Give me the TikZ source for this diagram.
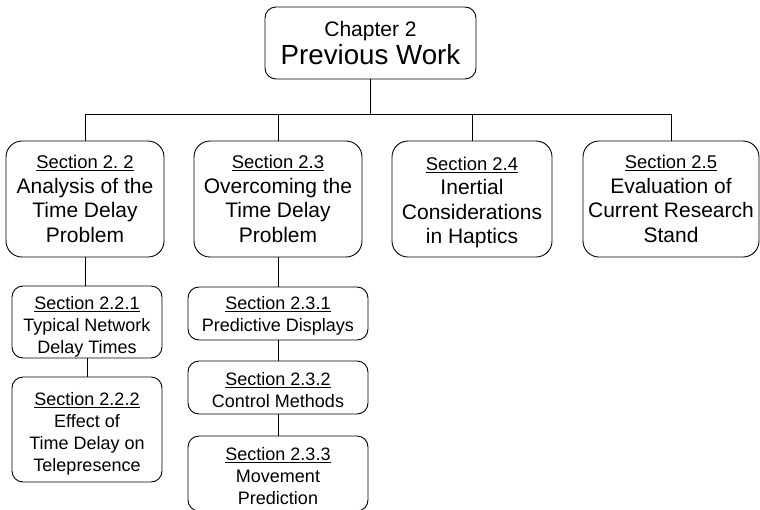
\documentclass[tikz,border=0pt]{standalone}
\usepackage{fontspec}
\setmainfont{Liberation Sans}
% invisible strut that lowers a box's text block by raising its first line
\newcommand\padtop[1]{\rule{0pt}{#1pt}}
\begin{document}
\begin{tikzpicture}[x=1pt,y=-1pt,
  every node/.style={inner sep=0pt,outer sep=0pt},
  box/.style={draw,line width=0.9pt,align=center},
  bigbox/.style={box,rounded corners=16pt,font=\fontsize{21}{24.5}\selectfont},
  smallbox/.style={box,rounded corners=11pt,font=\fontsize{18}{22}\selectfont},
  link/.style={line width=0.9pt}]
\useasboundingbox (0,0) rectangle (760,509);
\begin{scope}
\clip (0,0) rectangle (760,509);
% chapter heading
\node[box,rounded corners=11pt,minimum width=211pt,minimum height=72pt] (top) at (370.5,43)
  {{\fontsize{21}{26}\selectfont Chapter 2}\\[2pt]{\fontsize{27.7}{28}\selectfont Previous Work}};
% level-one sections
\node[bigbox,minimum width=158pt,minimum height=116pt] (s22) at (85,199)
  {{\fontsize{18.4}{24.5}\selectfont\underline{Section 2.\ 2}}\\Analysis of the\\Time Delay\\Problem};
\node[bigbox,minimum width=168pt,minimum height=116pt] (s23) at (278,199)
  {{\fontsize{18.4}{24.5}\selectfont\underline{Section 2.3}}\\Overcoming the\\Time Delay\\Problem};
\node[bigbox,minimum width=160pt,minimum height=116pt] (s24) at (472,199)
  {{\fontsize{18.4}{24.5}\selectfont\padtop{20.4}\underline{Section 2.4}}\\Inertial\\Considerations\\in Haptics};
\node[bigbox,minimum width=176pt,minimum height=116pt] (s25) at (671,199)
  {{\fontsize{18.4}{24.5}\selectfont\underline{Section 2.5}}\\Evaluation of\\Current Research\\Stand};
% subsections
\node[smallbox,minimum width=150pt,minimum height=72pt] (s221) at (87,322)
  {\padtop{22}\underline{Section 2.2.1}\\Typical Network\\Delay Times};
\node[smallbox,minimum width=150pt,minimum height=105pt] (s222) at (87,429.5)
  {\padtop{22}\underline{Section 2.2.2}\\Effect of\\Time Delay on\\Telepresence};
\node[smallbox,minimum width=180pt,minimum height=53pt] (s231) at (278,313.5)
  {\padtop{18}\underline{Section 2.3.1}\\Predictive Displays};
\node[smallbox,minimum width=180pt,minimum height=53pt] (s232) at (278,387.5)
  {\padtop{18}\underline{Section 2.3.2}\\Control Methods};
\node[smallbox,minimum width=180pt,minimum height=75pt] (s233) at (278,473.5)
  {\padtop{18}\underline{Section 2.3.3}\\Movement\\Prediction};
% connectors
\draw[link] (top.south) -- ++(0,35) coordinate (bus);
\foreach \n in {s22,s23,s24,s25}
  \draw[link] (bus) -| (\n.north);
\draw[link] (s22.south) -- (s22.south |- s221.north);
\draw[link] (s221.south) -- (s222.north);
\draw[link] (s23.south) -- (s23.south |- s231.north);
\draw[link] (s231.south) -- (s232.north);
\draw[link] (s232.south) -- (s233.north);
\end{scope}
\end{tikzpicture}
\end{document}
